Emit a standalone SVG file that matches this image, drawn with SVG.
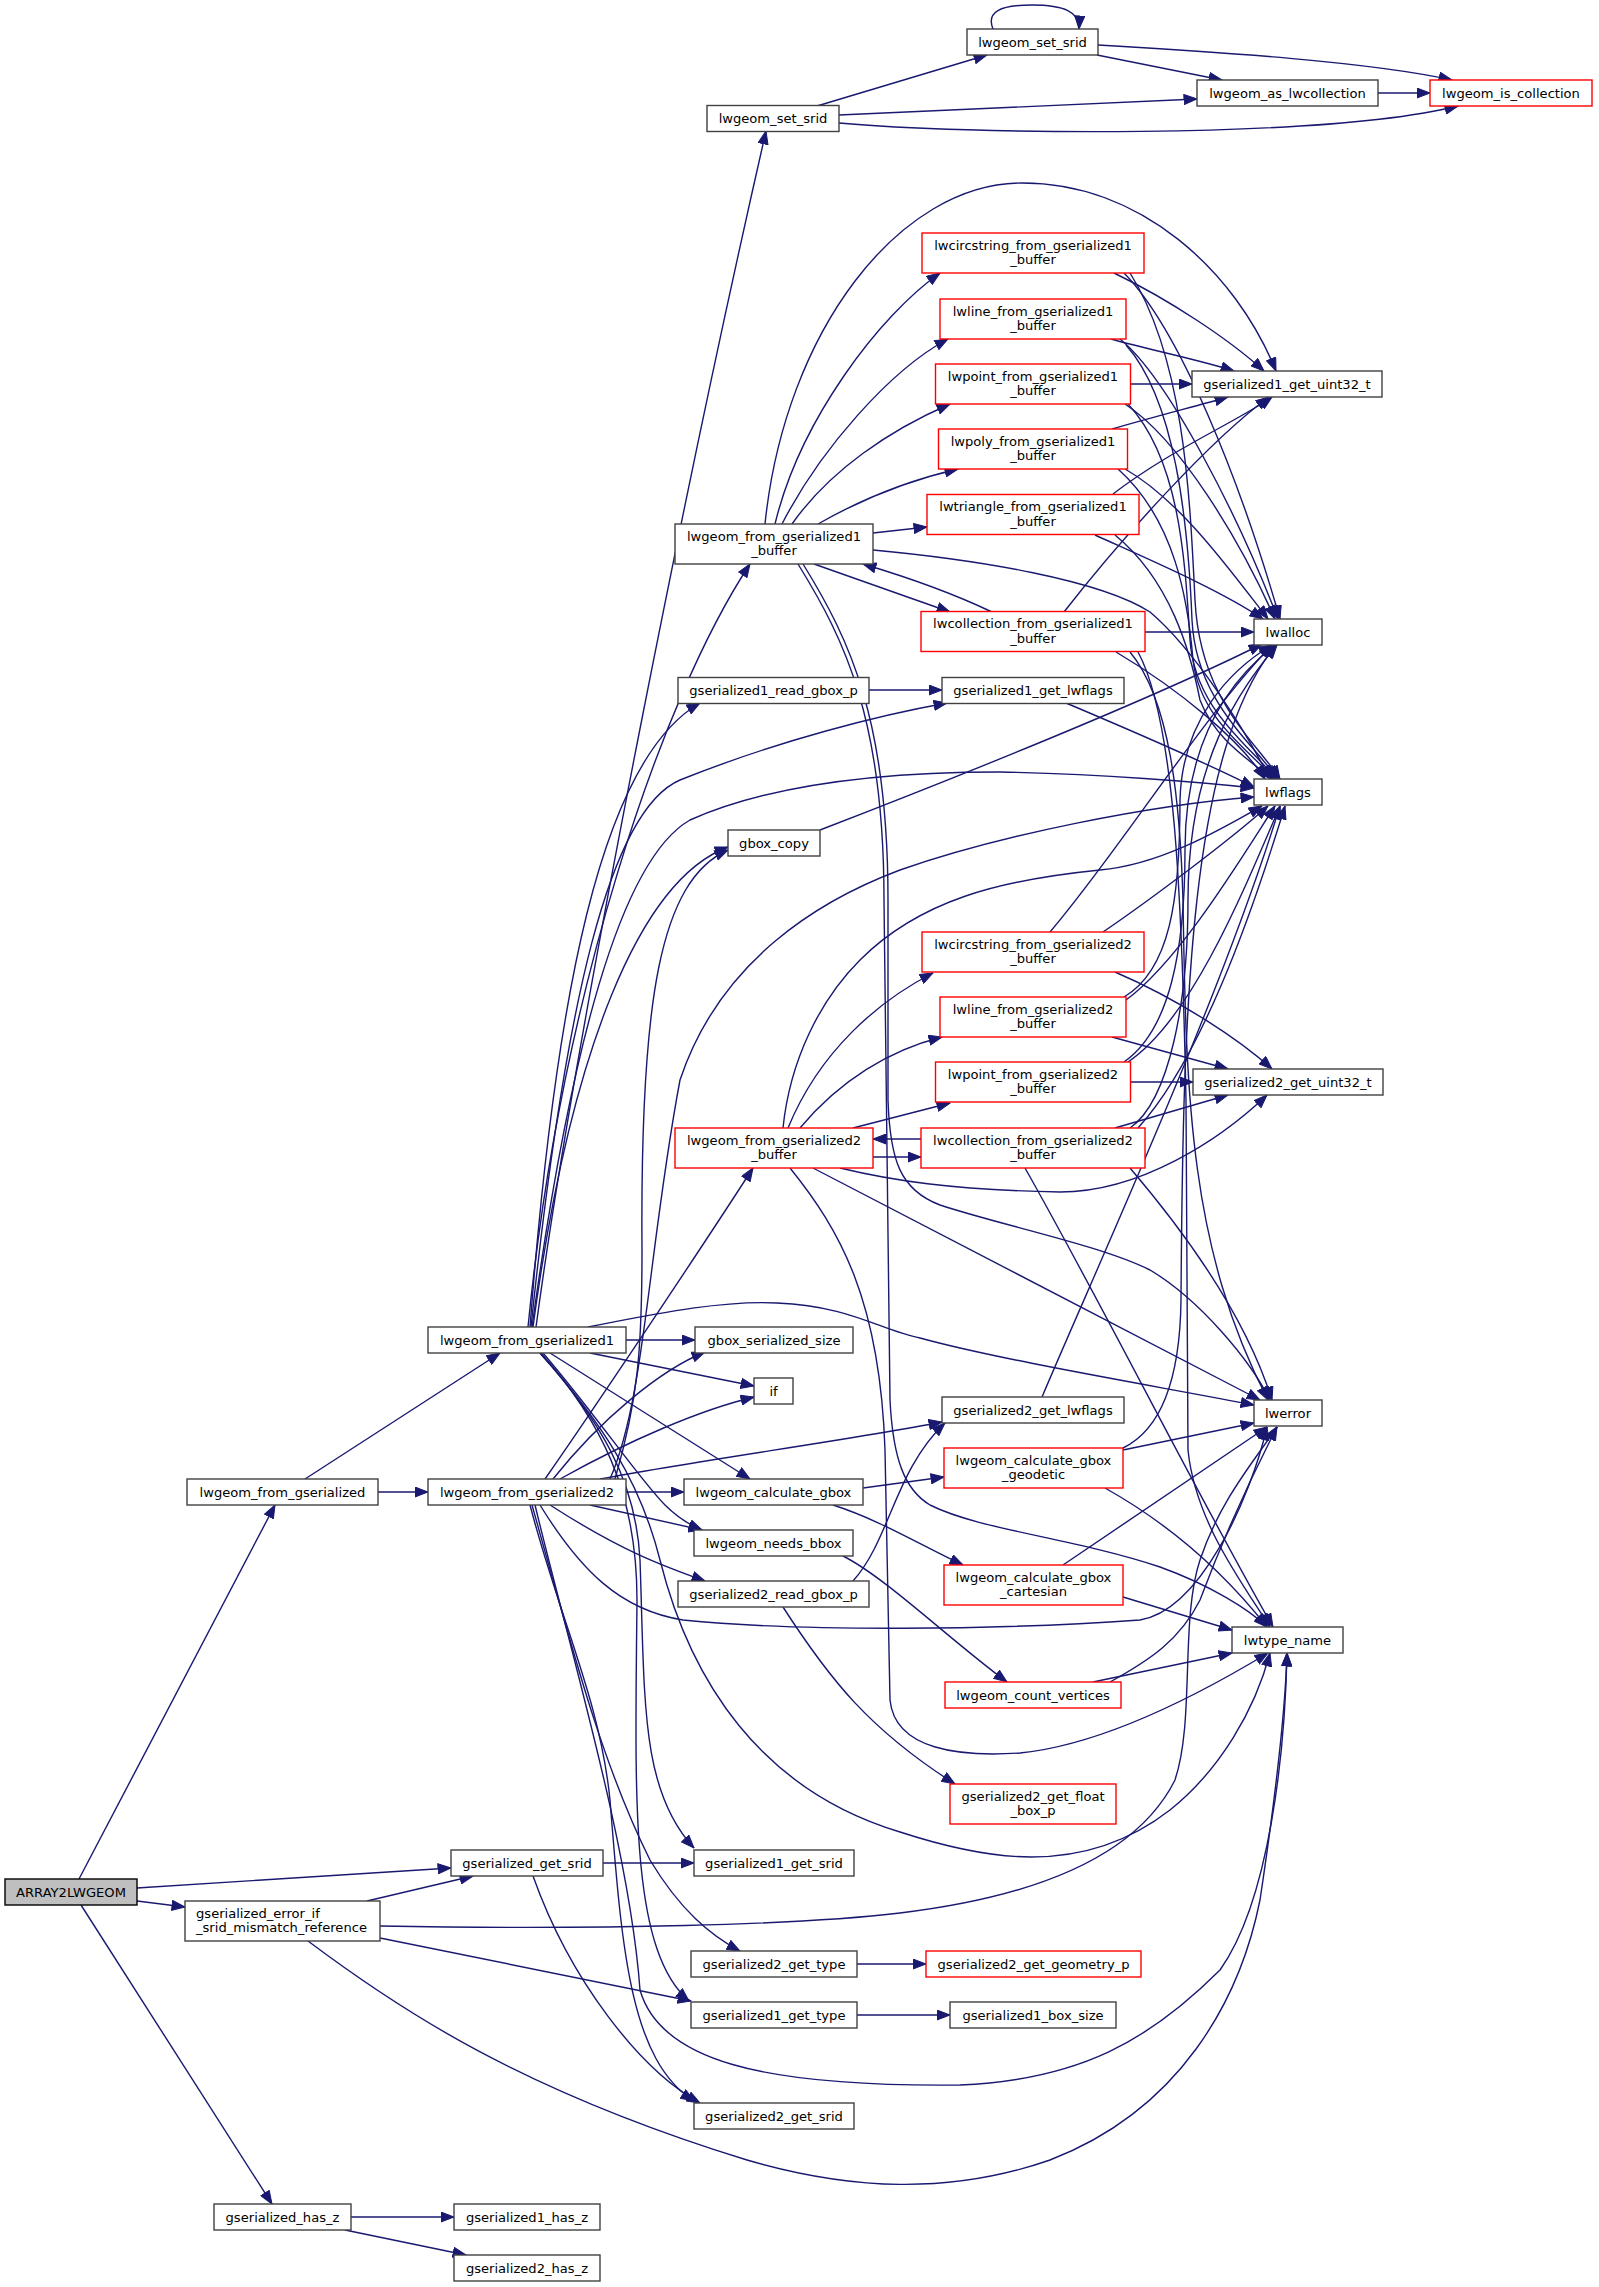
<svg xmlns="http://www.w3.org/2000/svg" width="1599" height="2287" viewBox="0 0 1599 2287">
<defs>
<marker id="ah" markerUnits="userSpaceOnUse" markerWidth="14" markerHeight="11" viewBox="0 0 14 11" refX="13.5" refY="5.5" orient="auto">
<path d="M0.5,0.5 L13.5,5.5 L0.5,10.5 Z" fill="#191970" stroke="#191970" stroke-width="1"/>
</marker>
<style>
.n rect{fill:#ffffff;stroke:#404040;stroke-width:1.4}
.r rect{fill:#ffffff;stroke:#ff0000;stroke-width:1.4}
.g rect{fill:#bfbfbf;stroke:#000000;stroke-width:1.4}
text{font-family:"DejaVu Sans","Noto Sans",sans-serif;font-size:13.1px;fill:#000000;text-anchor:middle}
text.l{text-anchor:start}
#edges path{fill:none;stroke:#191970;stroke-width:1.4;marker-end:url(#ah)}
</style>
</defs>
<rect x="0" y="0" width="1599" height="2287" fill="#ffffff"/>
<g id="edges">
<path d="M993,29 C986,12 1000,5 1032,5 C1064,5 1080,12 1079,29"/>
<path d="M1097,55 L1222,80"/>
<path d="M1098,45 C1220,52 1370,62 1452,80"/>
<path d="M817,106 L987,55"/>
<path d="M839,115 L1197,99"/>
<path d="M839,123 C960,134 1320,140 1458,106"/>
<path d="M1378,93 L1430,93"/>
<path d="M536,1327 C580,1000 700,420 766,131"/>
<path d="M765,524 C785,330 900,183 1022,183 C1140,183 1235,270 1276,371"/>
<path d="M775,524 C800,420 880,315 940,273"/>
<path d="M782,524 C820,450 890,370 948,339"/>
<path d="M792,524 C830,470 890,430 950,404"/>
<path d="M818,524 C860,500 910,480 958,469"/>
<path d="M873,533 L927,527"/>
<path d="M814,564 L950,612"/>
<path d="M992,612 C950,592 900,575 863,564"/>
<path d="M873,550 C980,560 1100,580 1150,612 C1195,650 1245,730 1270,779"/>
<path d="M803,564 C850,640 888,720 888,900 L888,1100 C890,1160 900,1190 940,1205 C1000,1225 1100,1245 1150,1270 C1200,1300 1250,1360 1270,1400"/>
<path d="M798,564 C845,640 884,720 884,900 L890,1400 C893,1460 905,1490 930,1505 C980,1530 1073,1538 1160,1567 C1210,1585 1250,1610 1267,1627"/>
<path d="M1114,273 C1170,300 1230,340 1264,371"/>
<path d="M1124,273 C1180,330 1240,480 1280,619"/>
<path d="M1130,273 C1185,360 1190,500 1195,600 C1200,700 1255,740 1280,779"/>
<path d="M1111,339 C1150,350 1200,360 1234,371"/>
<path d="M1120,339 C1170,380 1240,520 1278,619"/>
<path d="M1126,345 C1175,400 1188,520 1192,620 C1196,700 1250,740 1278,779"/>
<path d="M1131,384 L1192,384"/>
<path d="M1125,404 C1180,440 1240,540 1275,619"/>
<path d="M1128,404 C1180,460 1185,560 1190,640 C1195,710 1250,745 1276,779"/>
<path d="M1112,429 C1150,418 1200,405 1228,397"/>
<path d="M1125,469 C1180,500 1230,570 1268,619"/>
<path d="M1118,469 C1175,520 1188,600 1193,660 C1200,720 1250,750 1274,779"/>
<path d="M1113,494 C1170,450 1240,420 1272,397"/>
<path d="M1095,535 C1150,560 1220,590 1263,619"/>
<path d="M1115,535 C1170,580 1190,650 1200,700 C1215,740 1250,760 1272,779"/>
<path d="M1064,612 C1120,540 1210,440 1269,397"/>
<path d="M1145,632 L1254,632"/>
<path d="M1116,652 C1180,690 1240,740 1265,779"/>
<path d="M1130,652 C1170,700 1180,800 1183,900 C1186,1100 1190,1250 1268,1400"/>
<path d="M1138,652 C1175,720 1182,900 1186,1100 L1188,1450 C1195,1520 1240,1580 1270,1627"/>
<path d="M869,690 L942,690"/>
<path d="M1066,703 C1130,730 1200,760 1254,787"/>
<path d="M820,830 C950,780 1150,700 1262,644"/>
<path d="M528,1327 C560,1000 660,700 750,564"/>
<path d="M530,1327 C555,1000 600,760 700,703"/>
<path d="M531,1327 C565,1000 610,810 680,780 C780,740 880,715 947,703"/>
<path d="M532,1327 C570,1050 620,860 690,820 C780,780 900,772 1000,772 C1100,774 1200,782 1254,788"/>
<path d="M533,1327 C570,1050 640,880 728,847"/>
<path d="M615,1479 C638,1400 642,1350 642,1250 C640,1000 660,880 728,850"/>
<path d="M610,1479 C645,1400 648,1250 680,1080 C720,960 820,900 900,870 C1000,835 1150,805 1254,797"/>
<path d="M545,1479 C600,1400 700,1250 753,1168"/>
<path d="M553,1479 C600,1420 660,1370 705,1352"/>
<path d="M560,1479 C630,1440 700,1410 754,1397"/>
<path d="M600,1479 C700,1460 850,1440 942,1422"/>
<path d="M626,1492 L684,1492"/>
<path d="M590,1505 L702,1530"/>
<path d="M550,1505 C620,1550 660,1565 705,1581"/>
<path d="M540,1505 C580,1570 620,1610 683,1620 C800,1632 1000,1630 1140,1620 C1200,1610 1250,1500 1267,1427"/>
<path d="M535,1505 C570,1650 630,1850 640,1990 C660,2060 760,2087 960,2085 C1080,2080 1150,2040 1220,1970 C1270,1900 1285,1750 1287,1653"/>
<path d="M530,1505 C560,1620 600,1700 610,1800 C622,1950 630,2060 694,2101"/>
<path d="M532,1505 C570,1640 600,1760 650,1860 C680,1910 710,1935 740,1951"/>
<path d="M626,1340 L695,1340"/>
<path d="M590,1353 L754,1386"/>
<path d="M550,1353 L750,1479"/>
<path d="M543,1353 C600,1420 640,1480 665,1505 C677,1517 690,1525 702,1530"/>
<path d="M588,1327 C650,1315 720,1300 777,1303 C850,1306 880,1330 920,1338 C1000,1360 1150,1385 1254,1405"/>
<path d="M540,1353 C600,1420 636,1480 640,1560 C645,1700 640,1790 694,1848"/>
<path d="M541,1353 C600,1420 637,1490 637,1600 C635,1800 630,1950 689,2001"/>
<path d="M540,1353 C600,1420 640,1480 660,1560 C690,1680 760,1790 900,1832 C980,1858 1080,1880 1170,1810 C1220,1770 1255,1710 1270,1653"/>
<path d="M603,1863 L694,1863"/>
<path d="M533,1876 C570,1980 640,2070 700,2103"/>
<path d="M367,1901 L473,1876"/>
<path d="M380,1926 C600,1930 800,1925 900,1913 C1050,1895 1140,1850 1175,1780 C1195,1720 1180,1620 1200,1560 C1220,1500 1255,1460 1277,1427"/>
<path d="M380,1938 L691,2001"/>
<path d="M308,1941 C400,2010 520,2090 747,2160 C850,2190 950,2195 1050,2160 C1180,2110 1240,2000 1260,1900 C1275,1800 1285,1720 1287,1653"/>
<path d="M857,1964 L926,1964"/>
<path d="M857,2015 L950,2015"/>
<path d="M351,2217 L454,2217"/>
<path d="M345,2230 L466,2255"/>
<path d="M79,1879 L275,1505"/>
<path d="M137,1888 L451,1868"/>
<path d="M137,1901 L185,1907"/>
<path d="M81,1905 L272,2204"/>
<path d="M305,1479 L500,1353"/>
<path d="M378,1492 L428,1492"/>
<path d="M863,1488 L944,1477"/>
<path d="M833,1505 C880,1520 920,1545 963,1565"/>
<path d="M843,1556 C885,1577 950,1640 1007,1682"/>
<path d="M853,1581 C890,1540 895,1470 945,1423"/>
<path d="M783,1607 C830,1680 870,1730 955,1784"/>
<path d="M1123,1450 L1254,1423"/>
<path d="M1105,1488 C1180,1530 1230,1580 1267,1627"/>
<path d="M1123,1448 C1160,1430 1180,1380 1181,1300 C1183,1000 1190,750 1276,645"/>
<path d="M1063,1565 L1267,1427"/>
<path d="M1123,1597 L1232,1630"/>
<path d="M1110,1682 C1150,1660 1180,1640 1200,1600 C1230,1520 1260,1460 1277,1427"/>
<path d="M1093,1682 L1232,1653"/>
<path d="M1042,1397 C1100,1260 1220,1000 1280,806"/>
<path d="M1050,932 C1120,850 1200,720 1272,645"/>
<path d="M1103,932 C1150,900 1230,840 1268,806"/>
<path d="M1115,972 C1180,1000 1240,1040 1272,1069"/>
<path d="M1124,997 C1170,970 1180,900 1180,800 C1182,720 1230,670 1272,645"/>
<path d="M1126,1000 C1180,960 1240,860 1275,806"/>
<path d="M1112,1037 L1228,1069"/>
<path d="M1131,1082 L1193,1082"/>
<path d="M1124,1062 C1170,1030 1185,950 1185,850 C1185,740 1230,680 1275,645"/>
<path d="M1128,1062 C1190,1020 1240,900 1280,806"/>
<path d="M1115,1128 L1228,1095"/>
<path d="M1130,1128 C1170,1100 1188,1000 1188,900 C1188,760 1240,690 1277,645"/>
<path d="M1138,1128 C1200,1060 1250,920 1285,806"/>
<path d="M921,1139 L873,1139"/>
<path d="M873,1157 L921,1157"/>
<path d="M1130,1168 C1200,1250 1250,1330 1272,1400"/>
<path d="M1025,1168 C1100,1300 1200,1500 1273,1627"/>
<path d="M788,1128 C820,1050 880,1000 933,973"/>
<path d="M800,1128 C840,1080 890,1050 942,1037"/>
<path d="M853,1128 L950,1103"/>
<path d="M783,1128 C790,1060 820,1000 860,960 C920,900 1000,880 1100,870 C1160,865 1220,830 1262,806"/>
<path d="M840,1168 C890,1180 950,1190 1060,1192 C1140,1192 1220,1140 1267,1095"/>
<path d="M813,1168 L1260,1400"/>
<path d="M790,1168 C840,1230 880,1300 885,1450 L890,1700 C895,1750 960,1757 1020,1753 C1100,1745 1190,1700 1268,1653"/>
</g>
<g id="SST" class="n"><rect x="967" y="29" width="131" height="26"/><text x="1032.5" y="46.5">lwgeom_set_srid</text></g>
<g id="AC" class="n"><rect x="1197" y="80" width="181" height="26"/><text x="1287.5" y="97.5">lwgeom_as_lwcollection</text></g>
<g id="IC" class="r"><rect x="1430" y="80" width="162" height="26"/><text x="1511" y="97.5">lwgeom_is_collection</text></g>
<g id="SSL" class="n"><rect x="707" y="105.5" width="132" height="26"/><text x="773" y="123">lwgeom_set_srid</text></g>
<g id="CS1" class="r"><rect x="922" y="233" width="222" height="40"/><text x="1033" y="249.5">lwcircstring_from_gserialized1</text><text x="1033" y="264">_buffer</text></g>
<g id="LN1" class="r"><rect x="940" y="299" width="186" height="40"/><text x="1033" y="315.5">lwline_from_gserialized1</text><text x="1033" y="330">_buffer</text></g>
<g id="PT1" class="r"><rect x="935.5" y="364" width="195" height="40"/><text x="1033" y="380.5">lwpoint_from_gserialized1</text><text x="1033" y="395">_buffer</text></g>
<g id="U1" class="n"><rect x="1192" y="371" width="190" height="26"/><text x="1287" y="388.5">gserialized1_get_uint32_t</text></g>
<g id="PL1" class="r"><rect x="938.5" y="429" width="189" height="40"/><text x="1033" y="445.5">lwpoly_from_gserialized1</text><text x="1033" y="460">_buffer</text></g>
<g id="TR1" class="r"><rect x="927" y="494.5" width="212" height="40"/><text x="1033" y="511">lwtriangle_from_gserialized1</text><text x="1033" y="525.5">_buffer</text></g>
<g id="B1" class="n"><rect x="675" y="524" width="198" height="40"/><text x="774" y="540.5">lwgeom_from_gserialized1</text><text x="774" y="555">_buffer</text></g>
<g id="CO1" class="r"><rect x="921" y="611.5" width="224" height="40"/><text x="1033" y="628">lwcollection_from_gserialized1</text><text x="1033" y="642.5">_buffer</text></g>
<g id="AL" class="n"><rect x="1254" y="619" width="68" height="26"/><text x="1288" y="636.5">lwalloc</text></g>
<g id="R1" class="n"><rect x="678" y="677.5" width="191" height="26"/><text x="773.5" y="695">gserialized1_read_gbox_p</text></g>
<g id="GL1" class="n"><rect x="942" y="677.5" width="182" height="26"/><text x="1033" y="695">gserialized1_get_lwflags</text></g>
<g id="FL" class="n"><rect x="1254" y="779" width="68" height="26"/><text x="1288" y="796.5">lwflags</text></g>
<g id="GC" class="n"><rect x="728" y="830" width="92" height="26"/><text x="774" y="847.5">gbox_copy</text></g>
<g id="CS2" class="r"><rect x="922" y="932" width="222" height="40"/><text x="1033" y="948.5">lwcircstring_from_gserialized2</text><text x="1033" y="963">_buffer</text></g>
<g id="LN2" class="r"><rect x="940" y="997" width="186" height="40"/><text x="1033" y="1013.5">lwline_from_gserialized2</text><text x="1033" y="1028">_buffer</text></g>
<g id="PT2" class="r"><rect x="935.5" y="1062" width="195" height="40"/><text x="1033" y="1078.5">lwpoint_from_gserialized2</text><text x="1033" y="1093">_buffer</text></g>
<g id="U2" class="n"><rect x="1193" y="1069" width="190" height="26"/><text x="1288" y="1086.5">gserialized2_get_uint32_t</text></g>
<g id="B2" class="r"><rect x="675" y="1128" width="198" height="40"/><text x="774" y="1144.5">lwgeom_from_gserialized2</text><text x="774" y="1159">_buffer</text></g>
<g id="CO2" class="r"><rect x="921" y="1128" width="224" height="40"/><text x="1033" y="1144.5">lwcollection_from_gserialized2</text><text x="1033" y="1159">_buffer</text></g>
<g id="LFG1" class="n"><rect x="428" y="1327" width="198" height="26"/><text x="527" y="1344.5">lwgeom_from_gserialized1</text></g>
<g id="GSS" class="n"><rect x="695" y="1327" width="158" height="26"/><text x="774" y="1344.5">gbox_serialized_size</text></g>
<g id="IF" class="n"><rect x="754" y="1378" width="39" height="26"/><text x="773.5" y="1395.5">if</text></g>
<g id="GL2" class="n"><rect x="942" y="1397" width="182" height="26"/><text x="1033" y="1414.5">gserialized2_get_lwflags</text></g>
<g id="ER" class="n"><rect x="1254" y="1400" width="68" height="26"/><text x="1288" y="1417.5">lwerror</text></g>
<g id="GEO" class="r"><rect x="944" y="1448" width="179" height="40"/><text x="1033.5" y="1464.5">lwgeom_calculate_gbox</text><text x="1033.5" y="1479">_geodetic</text></g>
<g id="LFG" class="n"><rect x="187" y="1479" width="191" height="26"/><text x="282.5" y="1496.5">lwgeom_from_gserialized</text></g>
<g id="LFG2" class="n"><rect x="428" y="1479" width="198" height="26"/><text x="527" y="1496.5">lwgeom_from_gserialized2</text></g>
<g id="CG" class="n"><rect x="684" y="1479" width="179" height="26"/><text x="773.5" y="1496.5">lwgeom_calculate_gbox</text></g>
<g id="NB" class="n"><rect x="694" y="1530" width="159" height="26"/><text x="773.5" y="1547.5">lwgeom_needs_bbox</text></g>
<g id="CAR" class="r"><rect x="944" y="1565" width="179" height="40"/><text x="1033.5" y="1581.5">lwgeom_calculate_gbox</text><text x="1033.5" y="1596">_cartesian</text></g>
<g id="R2" class="n"><rect x="678" y="1581" width="191" height="26"/><text x="773.5" y="1598.5">gserialized2_read_gbox_p</text></g>
<g id="TN" class="n"><rect x="1232" y="1627" width="111" height="26"/><text x="1287.5" y="1644.5">lwtype_name</text></g>
<g id="CV" class="r"><rect x="945" y="1682" width="176" height="26"/><text x="1033" y="1699.5">lwgeom_count_vertices</text></g>
<g id="FB" class="r"><rect x="950" y="1784" width="166" height="40"/><text x="1033" y="1800.5">gserialized2_get_float</text><text x="1033" y="1815">_box_p</text></g>
<g id="GSRID" class="n"><rect x="451" y="1850" width="152" height="26"/><text x="527" y="1867.5">gserialized_get_srid</text></g>
<g id="S1" class="n"><rect x="694" y="1850" width="160" height="26"/><text x="774" y="1867.5">gserialized1_get_srid</text></g>
<g id="A" class="g"><rect x="5" y="1879" width="132" height="26"/><text x="71" y="1896.5">ARRAY2LWGEOM</text></g>
<g id="EIF" class="n"><rect x="185" y="1901" width="195" height="40"/><text class="l" x="196" y="1917.5">gserialized_error_if</text><text class="l" x="196" y="1932">_srid_mismatch_reference</text></g>
<g id="T2" class="n"><rect x="691" y="1951" width="166" height="26"/><text x="774" y="1968.5">gserialized2_get_type</text></g>
<g id="GP" class="r"><rect x="926" y="1951" width="215" height="26"/><text x="1033.5" y="1968.5">gserialized2_get_geometry_p</text></g>
<g id="T1" class="n"><rect x="691" y="2002" width="166" height="26"/><text x="774" y="2019.5">gserialized1_get_type</text></g>
<g id="BS" class="n"><rect x="950" y="2002" width="166" height="26"/><text x="1033" y="2019.5">gserialized1_box_size</text></g>
<g id="S2" class="n"><rect x="694" y="2103" width="160" height="26"/><text x="774" y="2120.5">gserialized2_get_srid</text></g>
<g id="HZ" class="n"><rect x="214" y="2204" width="137" height="26"/><text x="282.5" y="2221.5">gserialized_has_z</text></g>
<g id="H1" class="n"><rect x="454" y="2204" width="146" height="26"/><text x="527" y="2221.5">gserialized1_has_z</text></g>
<g id="H2" class="n"><rect x="454" y="2255" width="146" height="26"/><text x="527" y="2272.5">gserialized2_has_z</text></g>
</svg>
